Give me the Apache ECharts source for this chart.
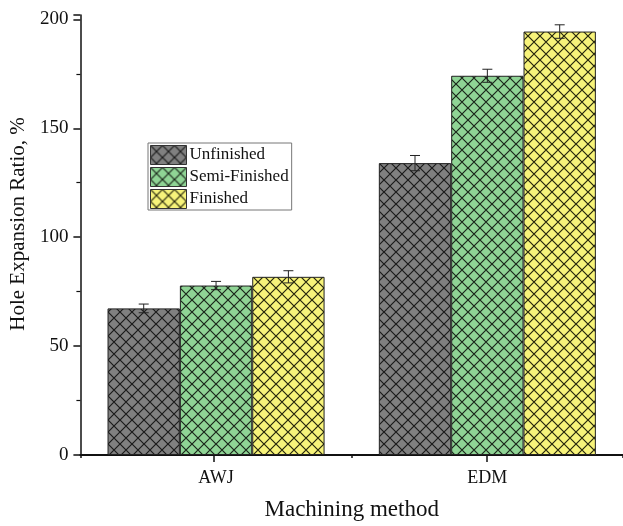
<!DOCTYPE html>
<html>
<head>
<meta charset="utf-8">
<script src="https://cdn.jsdelivr.net/npm/echarts@6/dist/echarts.min.js"></script>
<style>html,body{margin:0;padding:0;background:#fff;}#c{width:623px;height:526px;}</style>
</head>
<body>
<div id="c"></div>
<script>
// ---- data ----
const categories = ['AWJ', 'EDM'];
const seriesNames = ['Unfinished', 'Semi-Finished', 'Finished'];
const unfinished = [67.3, 134.0];
const semiFinished = [77.8, 174.1];
const finished = [81.8, 194.4];
const unfinishedErr = [2.0, 3.5];
const semiFinishedErr = [1.9, 3.0];
const finishedErr = [2.8, 3.1];
const yTicks = [0, 50, 100, 150, 200];

const values = [unfinished, semiFinished, finished];
const errs = [unfinishedErr, semiFinishedErr, finishedErr];
const baseColors = ['#808080', '#8fd495', '#f7f37a'];
const hatchColors = ['#1a1a1a', '#1a261a', '#26260c'];

function hatch(base, line) {
  const s = 12;
  const cv = document.createElement('canvas');
  cv.width = s; cv.height = s;
  const ctx = cv.getContext('2d');
  ctx.fillStyle = base;
  ctx.fillRect(0, 0, s, s);
  ctx.strokeStyle = line;
  ctx.lineWidth = 1.2;
  ctx.beginPath();
  ctx.moveTo(0, 0); ctx.lineTo(s, s);
  ctx.moveTo(s, 0); ctx.lineTo(0, s);
  ctx.stroke();
  return { image: cv, repeat: 'repeat' };
}

const serif = 'Liberation Serif, Times New Roman, serif';
const chart = echarts.init(document.getElementById('c'), null, { renderer: 'canvas' });

const barSeries = seriesNames.map((n, i) => ({
  name: n,
  type: 'bar',
  xAxisIndex: 0,
  yAxisIndex: 0,
  data: values[i],
  barGap: '0%',
  barCategoryGap: '20%',
  itemStyle: { color: hatch(baseColors[i], hatchColors[i]), borderColor: '#222', borderWidth: 1 },
  z: 2
}));

const errSeries = seriesNames.map((n, i) => ({
  type: 'custom',
  xAxisIndex: 0,
  yAxisIndex: 0,
  z: 5,
  silent: true,
  data: values[i].map((v, j) => [j, v - errs[i][j], v + errs[i][j]]),
  encode: { x: 0, y: [1, 2] },
  renderItem: function (params, api) {
    const xi = api.value(0);
    const lo = api.coord([xi, api.value(1)]);
    const hi = api.coord([xi, api.value(2)]);
    const band = api.size([1, 0])[0];
    const bw = band * 0.8 / 3;
    const cx = lo[0] + (i - 1) * bw;
    const cap = 5;
    const st = { stroke: '#222', lineWidth: 1 };
    return {
      type: 'group',
      children: [
        { type: 'line', shape: { x1: cx, y1: lo[1], x2: cx, y2: hi[1] }, style: st },
        { type: 'line', shape: { x1: cx - cap, y1: hi[1], x2: cx + cap, y2: hi[1] }, style: st },
        { type: 'line', shape: { x1: cx - cap, y1: lo[1], x2: cx + cap, y2: lo[1] }, style: st }
      ]
    };
  }
}));

const gridRect = { left: 77, top: 15, width: 548, bottom: 70, containLabel: false };

chart.setOption({
  animation: false,
  backgroundColor: '#ffffff',
  textStyle: { fontFamily: serif },
  grid: [Object.assign({}, gridRect), Object.assign({}, gridRect)],
  legend: {
    data: seriesNames,
    orient: 'vertical',
    left: 148,
    top: 143,
    icon: 'rect',
    itemWidth: 36,
    itemHeight: 19,
    itemGap: 2,
    padding: [2, 3, 1, 2],
    backgroundColor: '#ffffff',
    borderColor: '#777',
    borderWidth: 1,
    itemStyle: { borderColor: '#333', borderWidth: 1 },
    textStyle: { fontFamily: serif, fontSize: 17, lineHeight: 19, color: '#111', padding: [0, 0, 0, -2] }
  },
  xAxis: [
    {
      gridIndex: 0,
      type: 'category',
      data: categories,
      position: 'bottom',
      name: 'Machining method',
      nameLocation: 'middle',
      nameGap: 43,
      nameTextStyle: { fontFamily: serif, fontSize: 23, color: '#111' },
      axisLine: { lineStyle: { color: '#111', width: 2 } },
      axisTick: { show: true, alignWithLabel: false, length: 3, lineStyle: { color: '#111', width: 1.5 } },
      axisLabel: { fontFamily: serif, fontSize: 18, color: '#111', margin: 14 },
      splitLine: { show: false }
    },
    {
      gridIndex: 1,
      type: 'category',
      data: categories,
      position: 'bottom',
      axisLine: { show: false },
      axisTick: { show: true, alignWithLabel: true, length: 6, lineStyle: { color: '#111', width: 1.5 } },
      axisLabel: { show: false },
      splitLine: { show: false }
    }
  ],
  yAxis: [
    {
      gridIndex: 0,
      type: 'value',
      min: 0,
      max: 202,
      interval: 50,
      name: 'Hole Expansion Ratio, %',
      nameLocation: 'middle',
      nameGap: 48,
      nameTextStyle: { fontFamily: serif, fontSize: 21, color: '#111', padding: [0, 0, 0, 22] },
      axisLine: { show: true, onZero: false, lineStyle: { color: '#111', width: 1.5 } },
      axisTick: { show: true, length: 7, lineStyle: { color: '#111', width: 1.5 } },
      minorTick: { show: true, splitNumber: 2, length: 4, lineStyle: { color: '#111', width: 1.2 } },
      axisLabel: {
        fontFamily: serif, fontSize: 19, color: '#111', margin: 12,
        formatter: function (v) { return yTicks.indexOf(v) >= 0 ? String(v) : ''; }
      },
      splitLine: { show: false }
    },
    {
      gridIndex: 1,
      type: 'value',
      min: 0,
      max: 202,
      show: false
    }
  ],
  series: barSeries.concat(errSeries)
});
</script>
</body>
</html>
